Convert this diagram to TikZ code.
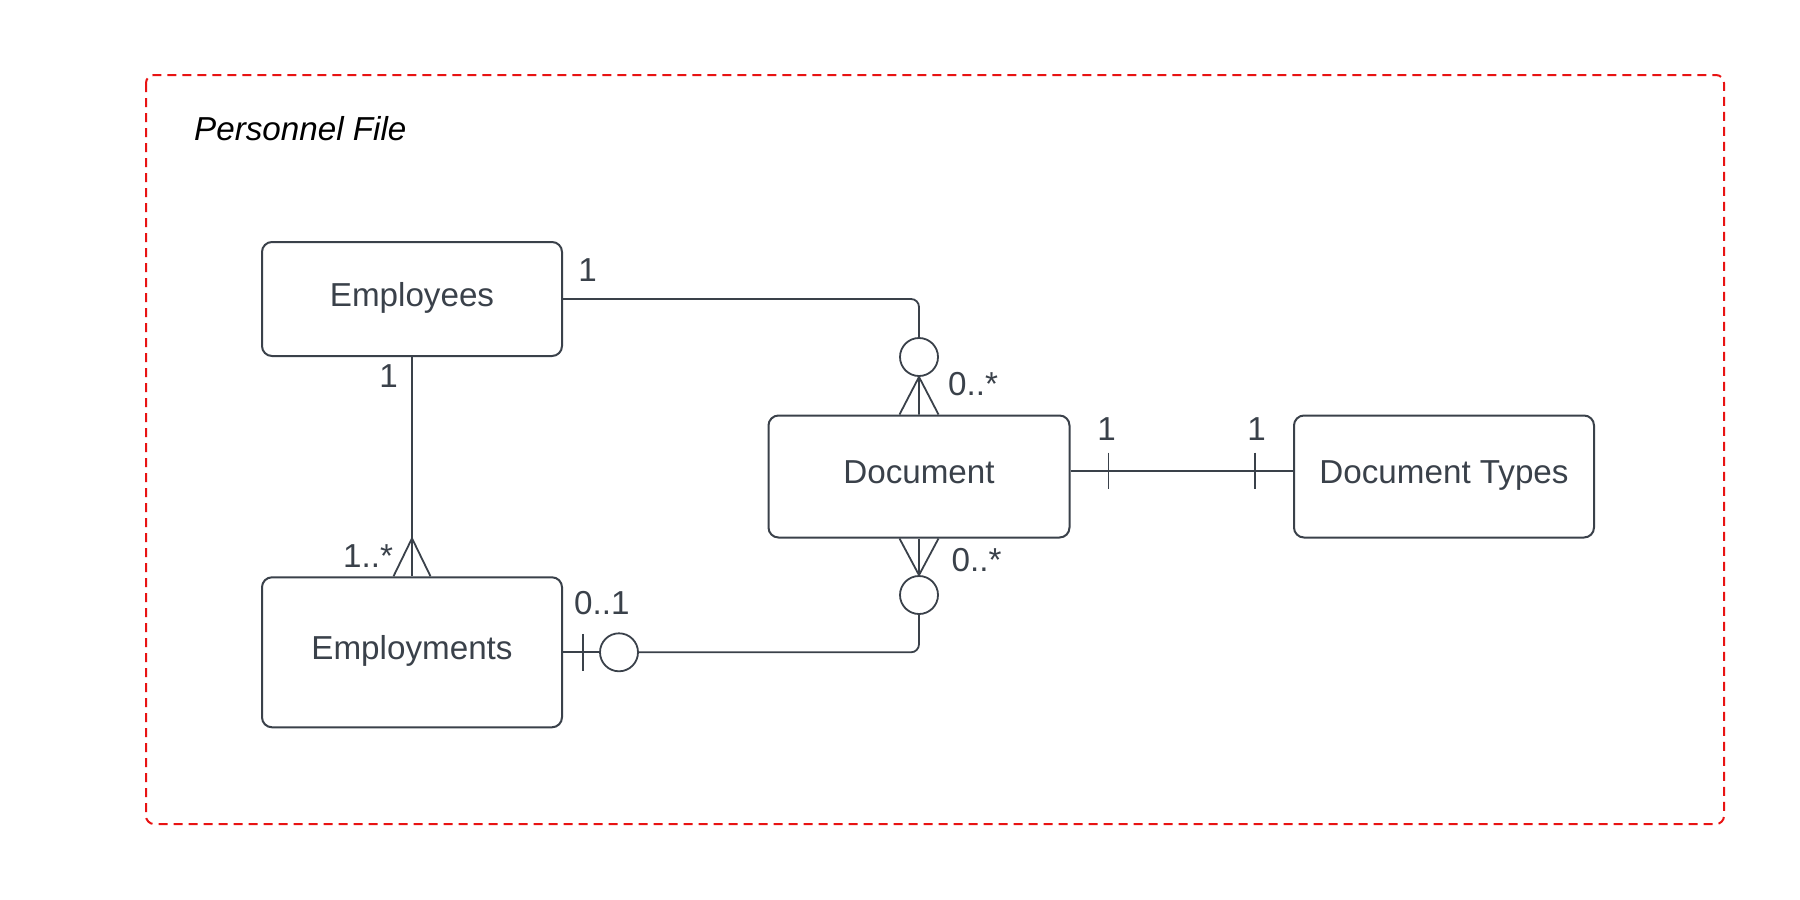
\documentclass[tikz,border=0pt]{standalone}
\usepackage{fontspec}
\setmainfont{Liberation Sans}
\usetikzlibrary{calc}
\definecolor{ink}{HTML}{3A414A}
\definecolor{redframe}{HTML}{E81313}
\begin{document}
\begin{tikzpicture}[x=1pt,y=-1pt,
  box/.style={draw=ink, line width=2pt, rounded corners=10pt, minimum width=300pt, text=ink,
    font=\fontsize{33.2}{40}\selectfont, text height=23.5pt, text depth=9.5pt, inner sep=0pt},
  conn/.style={draw=ink, line width=1.8pt},
  tick/.style={draw=ink, line width=1.5pt},
  ring/.style={circle, draw=ink, line width=1.8pt, fill=white, minimum size=38pt, inner sep=0pt},
  lbl/.style={text=ink, font=\fontsize{33.2}{40}\selectfont, inner sep=0pt}]
\useasboundingbox (0,0) rectangle (1800,900);
\draw[draw=redframe, dash pattern=on 9pt off 6pt, line width=2pt, rounded corners=8pt] (146,75) rectangle (1724,824);
\node[anchor=base west, inner sep=0pt, font=\itshape\fontsize{33.2}{40}\selectfont] (title) at (194,140) {Personnel File};

% entities
\node[box, minimum height=114pt] (emp) at (412,299) {Employees};
\node[box, minimum width=301pt, minimum height=122pt] (doc) at (919,476.5) {Document};
\node[box, minimum height=150pt] (empl) at (412,652.3) {Employments};
\node[box, minimum height=122pt] (dt) at (1444,476.5) {Document Types};

% optional rings
\node[ring] (cA) at (919,357) {};
\node[ring] (cB) at (919,595) {};
\node[ring] (cC) at (619,652.3) {};

% Employees -- Document
\draw[conn, rounded corners=8pt] (emp.east) -| (cA.north);
\draw[conn] (cA.south) -- ($(doc.north)+(-19.5,0)$)
            (cA.south) -- (doc.north)
            (cA.south) -- ($(doc.north)+(19.5,0)$);

% Employees -- Employments
\coordinate (fB) at ($(empl.north)+(0,-38)$);
\draw[conn] (emp.south) -- (empl.north);
\draw[conn] ($(empl.north)+(-18.5,0)$) -- (fB) -- ($(empl.north)+(18.5,0)$);

% Document -- Employments
\draw[conn] ($(doc.south)+(-19.5,0)$) -- (cB.north) -- ($(doc.south)+(19.5,0)$);
\draw[conn] (doc.south) -- (cB.north);
\draw[conn, rounded corners=8pt] (cB.south) |- (cC.east);
\draw[conn] (cC.west) -- (empl.east);
\draw[tick] ($(empl.east)+(20,-18.5)$) -- ($(empl.east)+(20,18.5)$);

% Document -- Document Types
\coordinate (dA) at ($(doc.east)+(0,-5.5)$);
\coordinate (dB) at ($(dt.west)+(0,-5.5)$);
\draw[conn] (dA) -- (dB);
\draw[tick, line width=1.2pt] ($(dA)+(38,-18.3)$) -- ($(dA)+(38,18.3)$);
\draw[tick] ($(dB)+(-38,-18.3)$) -- ($(dB)+(-38,18.3)$);

% cardinality labels
\node[lbl, anchor=base] (l1) at (587.5,281.7) {1};
\node[lbl, anchor=base] (l2) at (388.5,387.5) {1};
\node[lbl, anchor=base west] (l3) at (948,395) {0..*};
\node[lbl, anchor=base west] (l4) at (951.5,571.7) {0..*};
\node[lbl, anchor=base west] (l5) at (343,567) {1..*};
\node[lbl, anchor=base west] (l6) at (574,614) {0..1};
\node[lbl, anchor=base] (l7) at (1106.5,440.7) {1};
\node[lbl, anchor=base] (l8) at (1256.5,440.7) {1};
\end{tikzpicture}
\end{document}
